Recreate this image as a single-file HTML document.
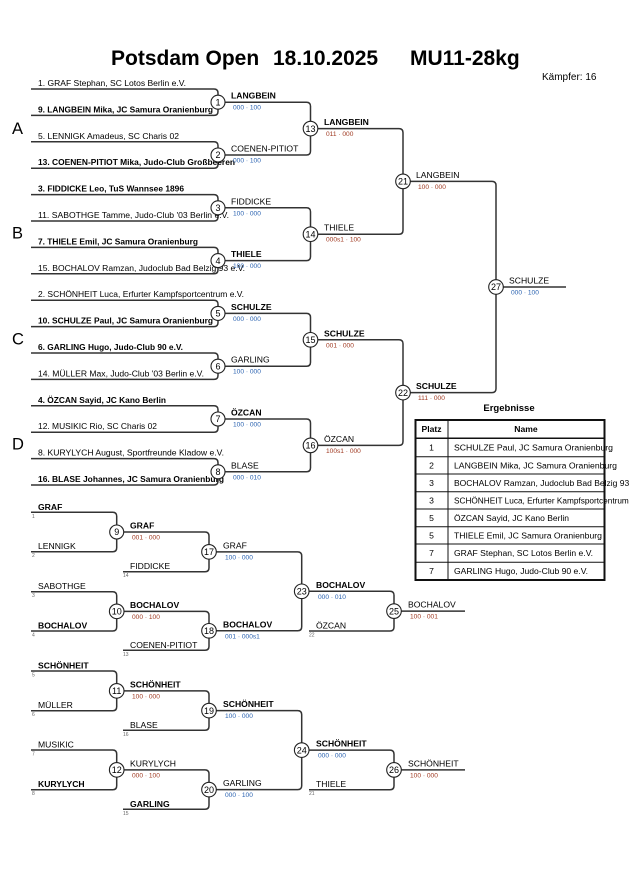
<!DOCTYPE html>
<html>
<head>
<meta charset="utf-8">
<style>
html,body{margin:0;padding:0;background:#fff;}
body{width:630px;height:891px;overflow:hidden;}
svg{display:block;}
text{font-family:"Liberation Sans",Arial,sans-serif;fill:#000;}
.e{font-size:8.6px;}
.b{font-weight:bold;}
.l{font-size:8.6px;}
.sb{font-size:6.6px;fill:#2a62b0;}
.sr{font-size:6.6px;fill:#a03a22;}
.sd{font-size:5px;fill:#666;}
.cn{font-size:9px;text-anchor:middle;}
.br{fill:none;stroke:#333;stroke-width:1.5;}
.ci{fill:#fff;stroke:#222;stroke-width:1.1;}
.t{font-size:8.6px;}
</style>
</head>
<body>
<svg width="630" height="891" viewBox="0 0 630 891" xmlns="http://www.w3.org/2000/svg">
<!-- Header -->
<text x="111" y="65" class="b" style="font-size:21px">Potsdam Open</text>
<text x="273" y="65" class="b" style="font-size:21px">18.10.2025</text>
<text x="410" y="65" class="b" style="font-size:21px">MU11-28kg</text>
<text x="542" y="80" style="font-size:10px">Kämpfer: 16</text>

<!-- Group letters -->
<text x="12" y="134" style="font-size:16.5px">A</text>
<text x="12" y="238.5" style="font-size:16.5px">B</text>
<text x="12" y="344.5" style="font-size:16.5px">C</text>
<text x="12" y="449.5" style="font-size:16.5px">D</text>

<!-- Main bracket lines -->
<path class="br" d="M31,89 H214 Q218,89 218,93 V111.4 Q218,115.4 214,115.4 H31"/>
<path class="br" d="M31,141.8 H214 Q218,141.8 218,145.8 V164.2 Q218,168.2 214,168.2 H31"/>
<path class="br" d="M31,194.6 H214 Q218,194.6 218,198.6 V217 Q218,221 214,221 H31"/>
<path class="br" d="M31,247.4 H214 Q218,247.4 218,251.4 V269.8 Q218,273.8 214,273.8 H31"/>
<path class="br" d="M31,300.2 H214 Q218,300.2 218,304.2 V322.6 Q218,326.6 214,326.6 H31"/>
<path class="br" d="M31,353 H214 Q218,353 218,357 V375.4 Q218,379.4 214,379.4 H31"/>
<path class="br" d="M31,405.8 H214 Q218,405.8 218,409.8 V428.2 Q218,432.2 214,432.2 H31"/>
<path class="br" d="M31,458.6 H214 Q218,458.6 218,462.6 V481 Q218,485 214,485 H31"/>

<path class="br" d="M218,102.2 H306.5 Q310.5,102.2 310.5,106.2 V151 Q310.5,155 306.5,155 H218"/>
<path class="br" d="M218,207.8 H306.5 Q310.5,207.8 310.5,211.8 V256.6 Q310.5,260.6 306.5,260.6 H218"/>
<path class="br" d="M218,313.4 H306.5 Q310.5,313.4 310.5,317.4 V362.2 Q310.5,366.2 306.5,366.2 H218"/>
<path class="br" d="M218,419 H306.5 Q310.5,419 310.5,423 V467.8 Q310.5,471.8 306.5,471.8 H218"/>

<path class="br" d="M310.5,128.6 H399 Q403,128.6 403,132.6 V230.2 Q403,234.2 399,234.2 H310.5"/>
<path class="br" d="M310.5,339.8 H399 Q403,339.8 403,343.8 V441.4 Q403,445.4 399,445.4 H310.5"/>

<path class="br" d="M403,181.4 H492 Q496,181.4 496,185.4 V388.6 Q496,392.6 492,392.6 H403"/>
<path class="br" d="M496,287 H566"/>

<!-- Entries -->
<text x="38" y="86" class="e" textLength="148" lengthAdjust="spacingAndGlyphs">1. GRAF Stephan, SC Lotos Berlin e.V.</text>
<text x="38" y="112.4" class="e b" textLength="175" lengthAdjust="spacingAndGlyphs">9. LANGBEIN Mika, JC Samura Oranienburg</text>
<text x="38" y="138.8" class="e" textLength="141" lengthAdjust="spacingAndGlyphs">5. LENNIGK Amadeus, SC Charis 02</text>
<text x="38" y="165.2" class="e b" textLength="197" lengthAdjust="spacingAndGlyphs">13. COENEN-PITIOT Mika, Judo-Club Großbeeren</text>
<text x="38" y="191.6" class="e b" textLength="146" lengthAdjust="spacingAndGlyphs">3. FIDDICKE Leo, TuS Wannsee 1896</text>
<text x="38" y="218" class="e" textLength="191" lengthAdjust="spacingAndGlyphs">11. SABOTHGE Tamme, Judo-Club '03 Berlin e.V.</text>
<text x="38" y="244.4" class="e b" textLength="160" lengthAdjust="spacingAndGlyphs">7. THIELE Emil, JC Samura Oranienburg</text>
<text x="38" y="270.8" class="e" textLength="207" lengthAdjust="spacingAndGlyphs">15. BOCHALOV Ramzan, Judoclub Bad Belzig 93 e.V.</text>
<text x="38" y="297.2" class="e" textLength="206" lengthAdjust="spacingAndGlyphs">2. SCHÖNHEIT Luca, Erfurter Kampfsportcentrum e.V.</text>
<text x="38" y="323.6" class="e b" textLength="175" lengthAdjust="spacingAndGlyphs">10. SCHULZE Paul, JC Samura Oranienburg</text>
<text x="38" y="350" class="e b" textLength="145" lengthAdjust="spacingAndGlyphs">6. GARLING Hugo, Judo-Club 90 e.V.</text>
<text x="38" y="376.4" class="e" textLength="166" lengthAdjust="spacingAndGlyphs">14. MÜLLER Max, Judo-Club '03 Berlin e.V.</text>
<text x="38" y="402.8" class="e b" textLength="128" lengthAdjust="spacingAndGlyphs">4. ÖZCAN Sayid, JC Kano Berlin</text>
<text x="38" y="429.2" class="e" textLength="119" lengthAdjust="spacingAndGlyphs">12. MUSIKIC Rio, SC Charis 02</text>
<text x="38" y="455.6" class="e" textLength="186" lengthAdjust="spacingAndGlyphs">8. KURYLYCH August, Sportfreunde Kladow e.V.</text>
<text x="38" y="482" class="e b" textLength="186" lengthAdjust="spacingAndGlyphs">16. BLASE Johannes, JC Samura Oranienburg</text>

<!-- R1 winners -->
<text x="231" y="98.7" class="l b">LANGBEIN</text>
<text x="233" y="109.7" class="sb">000 · 100</text>
<text x="231" y="151.5" class="l">COENEN-PITIOT</text>
<text x="233" y="162.5" class="sb">000 · 100</text>
<text x="231" y="204.3" class="l">FIDDICKE</text>
<text x="233" y="215.3" class="sb">100 · 000</text>
<text x="231" y="257.1" class="l b">THIELE</text>
<text x="233" y="268.1" class="sb">100 · 000</text>
<text x="231" y="309.9" class="l b">SCHULZE</text>
<text x="233" y="320.9" class="sb">000 · 000</text>
<text x="231" y="362.7" class="l">GARLING</text>
<text x="233" y="373.7" class="sb">100 · 000</text>
<text x="231" y="415.5" class="l b">ÖZCAN</text>
<text x="233" y="426.5" class="sb">100 · 000</text>
<text x="231" y="468.3" class="l">BLASE</text>
<text x="233" y="479.3" class="sb">000 · 010</text>

<!-- R2 winners -->
<text x="324" y="125.1" class="l b">LANGBEIN</text>
<text x="326" y="136.1" class="sr">011 · 000</text>
<text x="324" y="230.7" class="l">THIELE</text>
<text x="326" y="241.7" class="sr">000s1 · 100</text>
<text x="324" y="336.3" class="l b">SCHULZE</text>
<text x="326" y="347.3" class="sr">001 · 000</text>
<text x="324" y="441.9" class="l">ÖZCAN</text>
<text x="326" y="452.9" class="sr">100s1 · 000</text>

<!-- R3 -->
<text x="416" y="177.9" class="l">LANGBEIN</text>
<text x="418" y="188.9" class="sr">100 · 000</text>
<text x="416" y="389.1" class="l b">SCHULZE</text>
<text x="418" y="400.1" class="sr">111 · 000</text>

<!-- Final -->
<text x="509" y="283.5" class="l">SCHULZE</text>
<text x="511" y="294.5" class="sb">000 · 100</text>

<!-- Main circles -->
<g>
<circle class="ci" cx="218" cy="102.2" r="7"/><text class="cn" x="218" y="105.4">1</text>
<circle class="ci" cx="218" cy="155" r="7"/><text class="cn" x="218" y="158.2">2</text>
<circle class="ci" cx="218" cy="207.8" r="7"/><text class="cn" x="218" y="211">3</text>
<circle class="ci" cx="218" cy="260.6" r="7"/><text class="cn" x="218" y="263.8">4</text>
<circle class="ci" cx="218" cy="313.4" r="7"/><text class="cn" x="218" y="316.6">5</text>
<circle class="ci" cx="218" cy="366.2" r="7"/><text class="cn" x="218" y="369.4">6</text>
<circle class="ci" cx="218" cy="419" r="7"/><text class="cn" x="218" y="422.2">7</text>
<circle class="ci" cx="218" cy="471.8" r="7"/><text class="cn" x="218" y="475">8</text>
<circle class="ci" cx="310.5" cy="128.6" r="7.3"/><text class="cn" x="310.5" y="131.8">13</text>
<circle class="ci" cx="310.5" cy="234.2" r="7.3"/><text class="cn" x="310.5" y="237.4">14</text>
<circle class="ci" cx="310.5" cy="339.8" r="7.3"/><text class="cn" x="310.5" y="343">15</text>
<circle class="ci" cx="310.5" cy="445.4" r="7.3"/><text class="cn" x="310.5" y="448.6">16</text>
<circle class="ci" cx="403" cy="181.4" r="7.3"/><text class="cn" x="403" y="184.6">21</text>
<circle class="ci" cx="403" cy="392.6" r="7.3"/><text class="cn" x="403" y="395.8">22</text>
<circle class="ci" cx="496" cy="287" r="7.3"/><text class="cn" x="496" y="290.2">27</text>
</g>

<!-- Ergebnisse -->
<text x="509" y="411" class="b" style="font-size:9.5px;text-anchor:middle">Ergebnisse</text>
<rect x="415.5" y="420" width="189" height="160" fill="none" stroke="#111" stroke-width="2"/>
<g stroke="#111" stroke-width="1">
<line x1="415.5" y1="438.3" x2="604.5" y2="438.3" stroke-width="1.5"/>
<line x1="415.5" y1="456.7" x2="604.5" y2="456.7"/>
<line x1="415.5" y1="474" x2="604.5" y2="474"/>
<line x1="415.5" y1="491.7" x2="604.5" y2="491.7"/>
<line x1="415.5" y1="509" x2="604.5" y2="509"/>
<line x1="415.5" y1="526.7" x2="604.5" y2="526.7"/>
<line x1="415.5" y1="544" x2="604.5" y2="544"/>
<line x1="415.5" y1="562.3" x2="604.5" y2="562.3"/>
<line x1="448" y1="420" x2="448" y2="580"/>
</g>
<text x="431.5" y="432" class="t b" style="text-anchor:middle">Platz</text>
<text x="526" y="432" class="t b" style="text-anchor:middle">Name</text>
<g class="t">
<text x="431.5" y="450.5" class="t" style="text-anchor:middle">1</text>
<text x="454" y="450.5" class="t" textLength="159" lengthAdjust="spacingAndGlyphs">SCHULZE Paul, JC Samura Oranienburg</text>
<text x="431.5" y="468.4" class="t" style="text-anchor:middle">2</text>
<text x="454" y="468.4" class="t" textLength="163" lengthAdjust="spacingAndGlyphs">LANGBEIN Mika, JC Samura Oranienburg</text>
<text x="431.5" y="485.9" class="t" style="text-anchor:middle">3</text>
<text x="454" y="485.9" class="t" textLength="192" lengthAdjust="spacingAndGlyphs">BOCHALOV Ramzan, Judoclub Bad Belzig 93 e.V.</text>
<text x="431.5" y="503.4" class="t" style="text-anchor:middle">3</text>
<text x="454" y="503.4" class="t" textLength="191" lengthAdjust="spacingAndGlyphs">SCHÖNHEIT Luca, Erfurter Kampfsportcentrum e.V.</text>
<text x="431.5" y="520.9" class="t" style="text-anchor:middle">5</text>
<text x="454" y="520.9" class="t" textLength="115" lengthAdjust="spacingAndGlyphs">ÖZCAN Sayid, JC Kano Berlin</text>
<text x="431.5" y="538.4" class="t" style="text-anchor:middle">5</text>
<text x="454" y="538.4" class="t" textLength="148" lengthAdjust="spacingAndGlyphs">THIELE Emil, JC Samura Oranienburg</text>
<text x="431.5" y="556.2" class="t" style="text-anchor:middle">7</text>
<text x="454" y="556.2" class="t" textLength="139" lengthAdjust="spacingAndGlyphs">GRAF Stephan, SC Lotos Berlin e.V.</text>
<text x="431.5" y="574.2" class="t" style="text-anchor:middle">7</text>
<text x="454" y="574.2" class="t" textLength="134" lengthAdjust="spacingAndGlyphs">GARLING Hugo, Judo-Club 90 e.V.</text>
</g>

<!-- Repechage lines -->
<path class="br" d="M31,512.3 H112.7 Q116.7,512.3 116.7,516.3 V547.7 Q116.7,551.7 112.7,551.7 H31"/>
<path class="br" d="M116.7,532 H205 Q209,532 209,536 V567.7 Q209,571.7 205,571.7 H123"/>
<path class="br" d="M31,591.7 H112.7 Q116.7,591.7 116.7,595.7 V627 Q116.7,631 112.7,631 H31"/>
<path class="br" d="M116.7,611.35 H205 Q209,611.35 209,615.35 V646.3 Q209,650.3 205,650.3 H123"/>
<path class="br" d="M209,551.85 H297.7 Q301.7,551.85 301.7,555.85 V626.8 Q301.7,630.8 297.7,630.8 H209"/>
<path class="br" d="M301.7,591.3 H390 Q394,591.3 394,595.3 V627 Q394,631 390,631 H309"/>
<path class="br" d="M394,611.15 H465"/>

<path class="br" d="M31,671 H112.7 Q116.7,671 116.7,675 V706.7 Q116.7,710.7 112.7,710.7 H31"/>
<path class="br" d="M116.7,690.85 H205 Q209,690.85 209,694.85 V726.3 Q209,730.3 205,730.3 H123"/>
<path class="br" d="M31,750 H112.7 Q116.7,750 116.7,754 V785.7 Q116.7,789.7 112.7,789.7 H31"/>
<path class="br" d="M116.7,769.85 H205 Q209,769.85 209,773.85 V805.3 Q209,809.3 205,809.3 H123"/>
<path class="br" d="M209,710.6 H297.7 Q301.7,710.6 301.7,714.6 V785.6 Q301.7,789.6 297.7,789.6 H209"/>
<path class="br" d="M301.7,750.1 H390 Q394,750.1 394,754.1 V785.7 Q394,789.7 390,789.7 H309"/>
<path class="br" d="M394,769.9 H465"/>

<!-- Repechage labels -->
<text x="38" y="509.8" class="l b">GRAF</text>
<text x="32" y="517.8" class="sd">1</text>
<text x="38" y="549.2" class="l">LENNIGK</text>
<text x="32" y="557.2" class="sd">2</text>
<text x="38" y="589.2" class="l">SABOTHGE</text>
<text x="32" y="597.2" class="sd">3</text>
<text x="38" y="628.5" class="l b">BOCHALOV</text>
<text x="32" y="636.5" class="sd">4</text>
<text x="38" y="668.5" class="l b">SCHÖNHEIT</text>
<text x="32" y="676.5" class="sd">5</text>
<text x="38" y="708.2" class="l">MÜLLER</text>
<text x="32" y="716.2" class="sd">6</text>
<text x="38" y="747.5" class="l">MUSIKIC</text>
<text x="32" y="755.5" class="sd">7</text>
<text x="38" y="787.2" class="l b">KURYLYCH</text>
<text x="32" y="795.2" class="sd">8</text>

<text x="130" y="528.5" class="l b">GRAF</text>
<text x="132" y="539.5" class="sr">001 · 000</text>
<text x="130" y="569.2" class="l">FIDDICKE</text>
<text x="123" y="577.2" class="sd">14</text>
<text x="130" y="607.85" class="l b">BOCHALOV</text>
<text x="132" y="618.85" class="sr">000 · 100</text>
<text x="130" y="647.8" class="l">COENEN-PITIOT</text>
<text x="123" y="655.8" class="sd">13</text>
<text x="130" y="687.35" class="l b">SCHÖNHEIT</text>
<text x="132" y="698.35" class="sr">100 · 000</text>
<text x="130" y="727.8" class="l">BLASE</text>
<text x="123" y="735.8" class="sd">16</text>
<text x="130" y="766.35" class="l">KURYLYCH</text>
<text x="132" y="777.35" class="sr">000 · 100</text>
<text x="130" y="806.8" class="l b">GARLING</text>
<text x="123" y="814.8" class="sd">15</text>

<text x="223" y="548.35" class="l">GRAF</text>
<text x="225" y="559.35" class="sb">100 · 000</text>
<text x="223" y="627.3" class="l b">BOCHALOV</text>
<text x="225" y="638.3" class="sb">001 · 000s1</text>
<text x="223" y="707.1" class="l b">SCHÖNHEIT</text>
<text x="225" y="718.1" class="sb">100 · 000</text>
<text x="223" y="786.1" class="l">GARLING</text>
<text x="225" y="797.1" class="sb">000 · 100</text>

<text x="316" y="587.8" class="l b">BOCHALOV</text>
<text x="318" y="598.8" class="sb">000 · 010</text>
<text x="316" y="628.5" class="l">ÖZCAN</text>
<text x="309" y="636.5" class="sd">22</text>
<text x="316" y="746.6" class="l b">SCHÖNHEIT</text>
<text x="318" y="757.6" class="sb">000 · 000</text>
<text x="316" y="787.2" class="l">THIELE</text>
<text x="309" y="795.2" class="sd">21</text>

<text x="408" y="607.65" class="l">BOCHALOV</text>
<text x="410" y="618.65" class="sr">100 · 001</text>
<text x="408" y="766.4" class="l">SCHÖNHEIT</text>
<text x="410" y="777.4" class="sr">100 · 000</text>

<!-- Repechage circles -->
<circle class="ci" cx="116.7" cy="532" r="7"/><text class="cn" x="116.7" y="535.2">9</text>
<circle class="ci" cx="116.7" cy="611.35" r="7.3"/><text class="cn" x="116.7" y="614.55">10</text>
<circle class="ci" cx="116.7" cy="690.85" r="7.3"/><text class="cn" x="116.7" y="694.05">11</text>
<circle class="ci" cx="116.7" cy="769.85" r="7.3"/><text class="cn" x="116.7" y="773.05">12</text>
<circle class="ci" cx="209" cy="551.85" r="7.3"/><text class="cn" x="209" y="555.05">17</text>
<circle class="ci" cx="209" cy="630.8" r="7.3"/><text class="cn" x="209" y="634">18</text>
<circle class="ci" cx="209" cy="710.6" r="7.3"/><text class="cn" x="209" y="713.8">19</text>
<circle class="ci" cx="209" cy="789.6" r="7.3"/><text class="cn" x="209" y="792.8">20</text>
<circle class="ci" cx="301.7" cy="591.3" r="7.3"/><text class="cn" x="301.7" y="594.5">23</text>
<circle class="ci" cx="301.7" cy="750.1" r="7.3"/><text class="cn" x="301.7" y="753.3">24</text>
<circle class="ci" cx="394" cy="611.15" r="7.3"/><text class="cn" x="394" y="614.35">25</text>
<circle class="ci" cx="394" cy="769.9" r="7.3"/><text class="cn" x="394" y="773.1">26</text>
</svg>
</body>
</html>
